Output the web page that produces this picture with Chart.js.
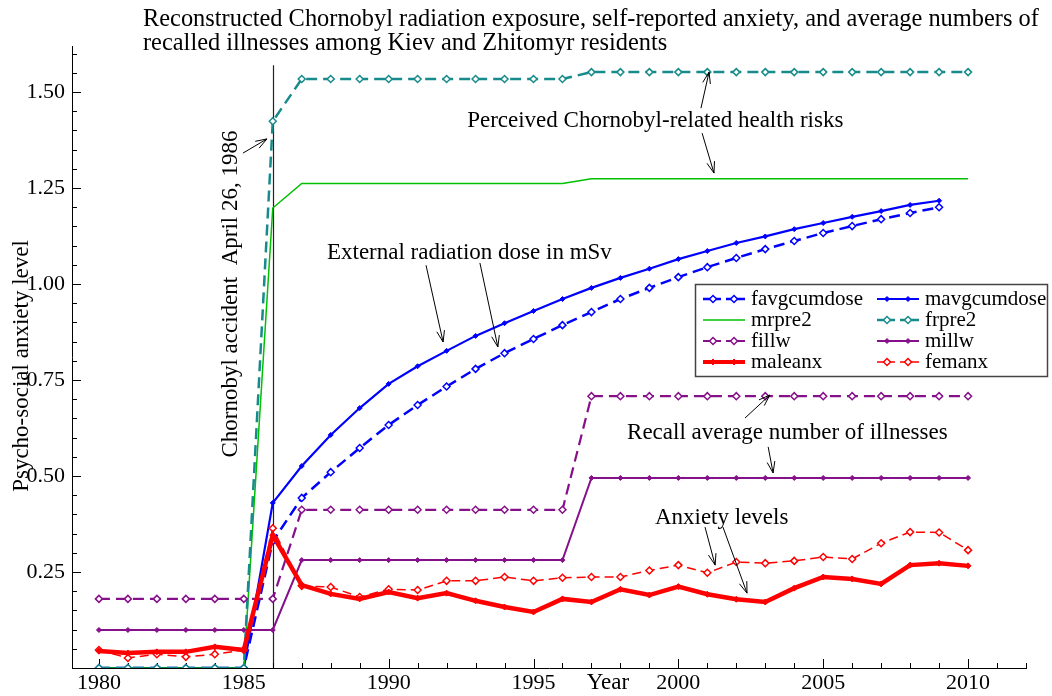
<!DOCTYPE html>
<html>
<head>
<meta charset="utf-8">
<script src="https://cdn.jsdelivr.net/npm/chart.js@4.4.1/dist/chart.umd.min.js"></script>
<style>
  html, body { margin: 0; padding: 0; background: #fff; }
  canvas { display: block; }
</style>
</head>
<body>
<canvas id="chart" width="1052" height="696"></canvas>
<script>
// -----------------------------
// DATA
// -----------------------------
const years = [1980, 1981, 1982, 1983, 1984, 1985, 1986, 1987, 1988, 1989,
               1990, 1991, 1992, 1993, 1994, 1995, 1996, 1997, 1998, 1999,
               2000, 2001, 2002, 2003, 2004, 2005, 2006, 2007, 2008, 2009, 2010];

const favgcumdose = [0, 0, 0, 0, 0, 0, 0.33, 0.443, 0.51, 0.573,
                     0.633, 0.685, 0.733, 0.779, 0.82, 0.857, 0.893, 0.927, 0.961, 0.99,
                     1.018, 1.044, 1.068, 1.091, 1.112, 1.133, 1.151, 1.169, 1.185, 1.2, null];
const mavgcumdose = [0, 0, 0, 0, 0, 0, 0.43, 0.526, 0.607, 0.677,
                     0.74, 0.786, 0.826, 0.865, 0.898, 0.93, 0.961, 0.99, 1.016, 1.04,
                     1.065, 1.086, 1.107, 1.124, 1.143, 1.159, 1.175, 1.19, 1.206, 1.217, null];
const mrpre2 = [0, 0, 0, 0, 0, 0, 1.198, 1.262, 1.262, 1.262,
                1.262, 1.262, 1.262, 1.262, 1.262, 1.262, 1.262, 1.274, 1.274, 1.274,
                1.274, 1.274, 1.274, 1.274, 1.274, 1.274, 1.274, 1.274, 1.274, 1.274, 1.274];
const frpre2 = [0, 0, 0, 0, 0, 0, 1.424, 1.534, 1.534, 1.534,
                1.534, 1.534, 1.534, 1.534, 1.534, 1.534, 1.534, 1.552, 1.552, 1.552,
                1.552, 1.552, 1.552, 1.552, 1.552, 1.552, 1.552, 1.552, 1.552, 1.552, 1.552];
const fillw = [0.18, 0.18, 0.18, 0.18, 0.18, 0.18, 0.18, 0.412, 0.412, 0.412,
               0.412, 0.412, 0.412, 0.412, 0.412, 0.412, 0.412, 0.708, 0.708, 0.708,
               0.708, 0.708, 0.708, 0.708, 0.708, 0.708, 0.708, 0.708, 0.708, 0.708, 0.708];
const millw = [0.099, 0.099, 0.099, 0.099, 0.099, 0.099, 0.099, 0.281, 0.281, 0.281,
               0.281, 0.281, 0.281, 0.281, 0.281, 0.281, 0.281, 0.495, 0.495, 0.495,
               0.495, 0.495, 0.495, 0.495, 0.495, 0.495, 0.495, 0.495, 0.495, 0.495, 0.495];
const maleanx = [0.044, 0.039, 0.042, 0.042, 0.055, 0.047, 0.346, 0.216, 0.193, 0.18,
                 0.198, 0.182, 0.195, 0.175, 0.159, 0.146, 0.18, 0.172, 0.205, 0.19,
                 0.212, 0.192, 0.179, 0.172, 0.208, 0.237, 0.232, 0.219, 0.268, 0.273, 0.266];
const femanx = [0.047, 0.026, 0.036, 0.029, 0.036, 0.047, 0.364, 0.214, 0.211, 0.185,
                0.205, 0.203, 0.227, 0.227, 0.237, 0.227, 0.235, 0.237, 0.237, 0.254,
                0.268, 0.248, 0.276, 0.273, 0.279, 0.289, 0.284, 0.325, 0.354, 0.353, 0.307];

const xTickLabels = [1980, 1985, 1990, 1995, 2000, 2005, 2010];
const yTickLabels = [0.25, 0.5, 0.75, 1.0, 1.25, 1.5];

const accidentYear = 1986;

// -----------------------------
// STYLE
// -----------------------------
const FONT = '"Liberation Serif", "Times New Roman", serif';
const BLUE = '#0000ff';
const GREEN = '#00c000';
const TEAL = '#178b8b';
const PURPLE = '#86108a';
const RED = '#ff0000';

function pts(vals) {
    return years.map((yr, i) => ({ x: yr, y: vals[i] }));
}

function openSeries(label, vals, color, width, dash, order) {
    return {
        label, data: pts(vals), order,
        borderColor: color, borderWidth: width, borderDash: dash,
        pointStyle: 'rectRot', pointRadius: 3.5,
        pointBackgroundColor: '#fff', pointBorderColor: color, pointBorderWidth: 1.5,
        tension: 0, spanGaps: false
    };
}

function filledSeries(label, vals, color, width, order, radius) {
    return {
        label, data: pts(vals), order,
        borderColor: color, borderWidth: width, borderDash: [],
        pointStyle: 'rectRot', pointRadius: radius,
        pointBackgroundColor: color, pointBorderColor: color, pointBorderWidth: 1,
        tension: 0, spanGaps: false
    };
}

const datasets = [
    filledSeries('maleanx', maleanx, RED, 4.5, 0, 3),
    openSeries('femanx', femanx, RED, 1.5, [9, 5], 1),
    filledSeries('millw', millw, PURPLE, 2, 2, 2.5),
    openSeries('fillw', fillw, PURPLE, 2.2, [11, 6], 3),
    openSeries('frpre2', frpre2, TEAL, 2.5, [11, 6], 4),
    {
        label: 'mrpre2', data: pts(mrpre2), order: 5,
        borderColor: GREEN, borderWidth: 1.5, pointRadius: 0, tension: 0
    },
    filledSeries('mavgcumdose', mavgcumdose, BLUE, 2.2, 6, 2.5),
    openSeries('favgcumdose', favgcumdose, BLUE, 2.5, [11, 6], 7)
];

// -----------------------------
// OVERLAY HELPERS
// -----------------------------
function arrow(ctx, x1, y1, x2, y2) {
    const a = Math.atan2(y2 - y1, x2 - x1);
    const len = 12, spread = 0.33;
    ctx.beginPath();
    ctx.moveTo(x1, y1);
    ctx.lineTo(x2, y2);
    ctx.moveTo(x2 - len * Math.cos(a - spread), y2 - len * Math.sin(a - spread));
    ctx.lineTo(x2, y2);
    ctx.lineTo(x2 - len * Math.cos(a + spread), y2 - len * Math.sin(a + spread));
    ctx.stroke();
}

function diamond(ctx, x, y, r, fill, stroke, lw) {
    ctx.beginPath();
    ctx.moveTo(x, y - r);
    ctx.lineTo(x + r, y);
    ctx.lineTo(x, y + r);
    ctx.lineTo(x - r, y);
    ctx.closePath();
    ctx.fillStyle = fill;
    ctx.fill();
    ctx.lineWidth = lw;
    ctx.strokeStyle = stroke;
    ctx.stroke();
}

// annotation texts and arrows in data coordinates
const notes = [
    { text: 'Perceived Chornobyl-related health risks', x: 1992.71, y: 1.424 },
    { text: 'External radiation dose in mSv', x: 1987.87, y: 1.081 },
    { text: 'Recall average number of illnesses', x: 1998.23, y: 0.612 },
    { text: 'Anxiety levels', x: 1999.19, y: 0.391 }
];
const arrows = [
    [1984.97, 1.341, 1985.80, 1.378],
    [2000.78, 1.458, 2001.06, 1.552],
    [2000.82, 1.393, 2001.23, 1.289],
    [1991.29, 1.049, 1991.88, 0.849],
    [1993.15, 1.055, 1993.77, 0.836],
    [2002.30, 0.651, 2003.16, 0.711],
    [2003.10, 0.576, 2003.27, 0.508],
    [2000.92, 0.367, 2001.27, 0.268],
    [2001.54, 0.367, 2002.37, 0.195]
];

// -----------------------------
// PLUGINS
// -----------------------------
const underlay = {
    id: 'underlay',
    beforeDatasetsDraw(chart) {
        const { ctx, scales: { x, y } } = chart;
        ctx.save();
        // accident line
        ctx.strokeStyle = '#222';
        ctx.lineWidth = 1.2;
        ctx.beginPath();
        ctx.moveTo(Math.round(x.getPixelForValue(accidentYear)) + 0.5, y.getPixelForValue(1.57));
        ctx.lineTo(Math.round(x.getPixelForValue(accidentYear)) + 0.5, y.getPixelForValue(0));
        ctx.stroke();

        // inward ticks
        ctx.strokeStyle = '#000';
        ctx.lineWidth = 1;
        const yb = y.getPixelForValue(0);
        for (let yr = 1980; yr <= 2012; yr++) {
            const px = Math.round(x.getPixelForValue(yr)) + 0.5;
            const len = yr % 5 === 0 ? 9 : 5;
            ctx.beginPath();
            ctx.moveTo(px, yb);
            ctx.lineTo(px, yb - len);
            ctx.stroke();
        }
        const xl = x.getPixelForValue(x.min);
        for (let k = 1; k <= 32; k++) {
            const py = Math.round(y.getPixelForValue(k * 0.05)) + 0.5;
            const len = k % 5 === 0 ? 9 : 5;
            ctx.beginPath();
            ctx.moveTo(xl, py);
            ctx.lineTo(xl + len, py);
            ctx.stroke();
        }
        ctx.restore();
    }
};

const overlay = {
    id: 'overlay',
    afterDraw(chart) {
        const { ctx, scales: { x, y } } = chart;
        ctx.save();
        ctx.fillStyle = '#000';
        ctx.textBaseline = 'middle';

        // title
        ctx.font = '24.4px ' + FONT;
        ctx.textAlign = 'left';
        ctx.fillText('Reconstructed Chornobyl radiation exposure, self-reported anxiety, and average numbers of', 143, 20);
        ctx.fillText('recalled illnesses among Kiev and Zhitomyr residents', 143, 44);

        // axis titles
        ctx.font = '23px ' + FONT;
        ctx.textAlign = 'center';
        ctx.fillText('Year', 608, 683);
        ctx.save();
        ctx.translate(22, 366);
        ctx.rotate(-Math.PI / 2);
        ctx.fillText('Psycho-social anxiety level', 0, 0);
        ctx.restore();

        // accident label
        ctx.save();
        ctx.translate(x.getPixelForValue(1984.56), y.getPixelForValue(0.974));
        ctx.rotate(-Math.PI / 2);
        ctx.fillText('Chornobyl accident  April 26, 1986', 0, 0);
        ctx.restore();

        // annotations
        ctx.textAlign = 'left';
        notes.forEach(n => {
            ctx.fillText(n.text, x.getPixelForValue(n.x), y.getPixelForValue(n.y));
        });
        ctx.strokeStyle = '#000';
        ctx.lineWidth = 1;
        arrows.forEach(a => {
            arrow(ctx, x.getPixelForValue(a[0]), y.getPixelForValue(a[1]),
                       x.getPixelForValue(a[2]), y.getPixelForValue(a[3]));
        });

        // legend box
        ctx.fillStyle = '#fff';
        ctx.fillRect(695, 284, 353, 93);
        ctx.strokeStyle = '#444';
        ctx.lineWidth = 1.5;
        ctx.strokeRect(695.5, 284.5, 352, 92);

        const byName = {};
        chart.data.datasets.forEach(d => { byName[d.label] = d; });
        const rows = [
            ['favgcumdose', 'mavgcumdose'],
            ['mrpre2', 'frpre2'],
            ['fillw', 'millw'],
            ['maleanx', 'femanx']
        ];
        const rowY = [299, 320, 341, 362];
        const cols = [703, 877];
        rows.forEach((row, ri) => {
            row.forEach((name, ci) => {
                const d = byName[name];
                const x0 = cols[ci], yy = rowY[ri];
                ctx.save();
                ctx.strokeStyle = d.borderColor;
                ctx.lineWidth = Math.min(d.borderWidth, 4);
                ctx.setLineDash([]);
                ctx.beginPath();
                if (d.borderDash && d.borderDash.length) {
                    ctx.moveTo(x0, yy); ctx.lineTo(x0 + 18, yy);
                    ctx.moveTo(x0 + 23, yy); ctx.lineTo(x0 + 42, yy);
                } else {
                    ctx.moveTo(x0, yy); ctx.lineTo(x0 + 42, yy);
                }
                ctx.stroke();
                if (d.pointRadius > 0) {
                    [x0 + 10, x0 + 31].forEach(mx => {
                        diamond(ctx, mx, yy, d.pointRadius, d.pointBackgroundColor,
                                d.pointBorderColor, d.pointBorderWidth);
                    });
                }
                ctx.restore();
                ctx.fillStyle = '#000';
                ctx.font = '21px ' + FONT;
                ctx.textAlign = 'left';
                ctx.textBaseline = 'middle';
                ctx.fillText(name, x0 + 48, yy);
            });
        });
        ctx.restore();
    }
};

// -----------------------------
// CHART
// -----------------------------
new Chart(document.getElementById('chart'), {
    type: 'line',
    data: { datasets },
    options: {
        responsive: false,
        animation: false,
        layout: { padding: { left: 0, right: 26, top: 46, bottom: 0 } },
        plugins: {
            legend: { display: false },
            tooltip: { enabled: false },
            title: { display: false }
        },
        scales: {
            x: {
                type: 'linear',
                min: 1979.07,
                max: 2012,
                grid: { display: false, drawTicks: false },
                border: { display: true, color: '#000', width: 1 },
                afterBuildTicks: axis => { axis.ticks = xTickLabels.map(v => ({ value: v })); },
                afterFit: s => { s.height = 28; },
                ticks: {
                    autoSkip: false,
                    maxRotation: 0,
                    padding: 2,
                    color: '#000',
                    font: { family: FONT, size: 22 },
                    callback: v => String(v)
                }
            },
            y: {
                type: 'linear',
                min: 0,
                max: 1.62,
                grid: { display: false, drawTicks: false },
                border: { display: true, color: '#000', width: 1 },
                afterBuildTicks: axis => { axis.ticks = yTickLabels.map(v => ({ value: v })); },
                afterFit: s => { s.width = 72; },
                ticks: {
                    autoSkip: false,
                    padding: 7,
                    color: '#000',
                    font: { family: FONT, size: 22 },
                    callback: v => Number(v).toFixed(2)
                }
            }
        }
    },
    plugins: [underlay, overlay]
});
</script>
</body>
</html>
